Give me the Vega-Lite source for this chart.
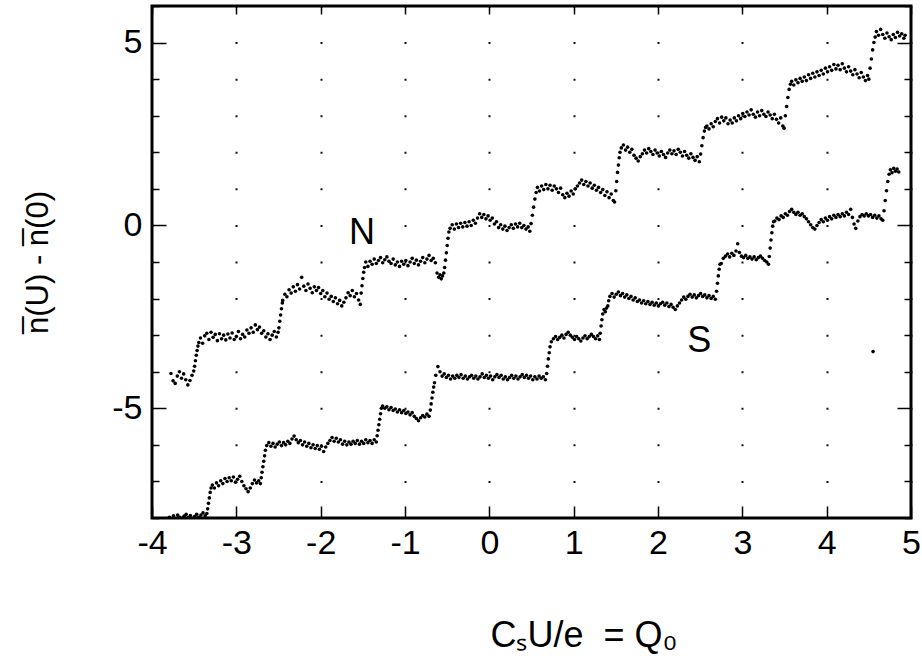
{
"$schema": "https://vega.github.io/schema/vega-lite/v6.json",
"width": 759,
"height": 512,
"autosize": {"type": "none"},
"padding": {"left": 152, "top": 6, "right": 11, "bottom": 144},
"background": "white",
"config": {"view": {"stroke": "black", "strokeWidth": 3}, "font": "Liberation Sans"},
"datasets": {
"N": [
{"x":-3.775,"y":-4.05},{"x":-3.75,"y":-4.25},{"x":-3.725,"y":-4.32},{"x":-3.7,"y":-4.12},{"x":-3.675,"y":-4.0},{"x":-3.65,"y":-4.18},{"x":-3.625,"y":-4.06},{"x":-3.6,"y":-4.22},{"x":-3.575,"y":-4.36},{"x":-3.55,"y":-4.24},{"x":-3.525,"y":-4.1},{"x":-3.505,"y":-3.98},
{"x":-3.495,"y":-3.85},{"x":-3.485,"y":-3.7},{"x":-3.475,"y":-3.55},{"x":-3.465,"y":-3.42},{"x":-3.455,"y":-3.3},{"x":-3.445,"y":-3.2},
{"x":-3.425,"y":-3.08},{"x":-3.4,"y":-3.22},{"x":-3.375,"y":-3.02},{"x":-3.35,"y":-2.95},{"x":-3.325,"y":-3.12},{"x":-3.3,"y":-2.92},{"x":-3.275,"y":-3.06},{"x":-3.25,"y":-2.98},{"x":-3.225,"y":-3.15},{"x":-3.2,"y":-2.96},{"x":-3.175,"y":-3.1},{"x":-3.15,"y":-3.0},{"x":-3.125,"y":-3.13},{"x":-3.1,"y":-2.97},{"x":-3.075,"y":-3.08},{"x":-3.05,"y":-2.94},{"x":-3.025,"y":-3.12},{"x":-3.0,"y":-3.04},{"x":-2.975,"y":-2.9},{"x":-2.95,"y":-3.1},{"x":-2.925,"y":-2.98},{"x":-2.9,"y":-3.05},{"x":-2.875,"y":-2.86},{"x":-2.85,"y":-2.95},{"x":-2.825,"y":-2.8},{"x":-2.8,"y":-2.92},{"x":-2.775,"y":-2.72},{"x":-2.75,"y":-2.85},{"x":-2.725,"y":-2.78},{"x":-2.7,"y":-2.95},{"x":-2.675,"y":-2.88},{"x":-2.65,"y":-3.05},{"x":-2.625,"y":-2.96},{"x":-2.6,"y":-3.12},{"x":-2.575,"y":-3.0},{"x":-2.55,"y":-2.9},{"x":-2.525,"y":-3.05},{"x":-2.505,"y":-2.92},
{"x":-2.495,"y":-2.8},{"x":-2.485,"y":-2.62},{"x":-2.475,"y":-2.45},{"x":-2.465,"y":-2.28},{"x":-2.455,"y":-2.12},
{"x":-2.45,"y":-2.05},{"x":-2.425,"y":-1.88},{"x":-2.4,"y":-1.95},{"x":-2.375,"y":-1.76},{"x":-2.35,"y":-1.85},{"x":-2.325,"y":-1.68},{"x":-2.3,"y":-1.8},{"x":-2.275,"y":-1.62},{"x":-2.25,"y":-1.74},{"x":-2.225,"y":-1.42},{"x":-2.2,"y":-1.66},{"x":-2.175,"y":-1.78},{"x":-2.15,"y":-1.6},{"x":-2.125,"y":-1.72},{"x":-2.1,"y":-1.84},{"x":-2.075,"y":-1.68},{"x":-2.05,"y":-1.78},{"x":-2.025,"y":-1.7},{"x":-2.0,"y":-1.86},{"x":-1.975,"y":-1.78},{"x":-1.95,"y":-1.95},{"x":-1.925,"y":-1.85},{"x":-1.9,"y":-2.02},{"x":-1.875,"y":-1.94},{"x":-1.85,"y":-2.08},{"x":-1.825,"y":-1.98},{"x":-1.8,"y":-2.14},{"x":-1.775,"y":-2.05},{"x":-1.75,"y":-2.2},{"x":-1.725,"y":-2.1},{"x":-1.7,"y":-1.98},{"x":-1.675,"y":-1.84},{"x":-1.65,"y":-1.92},{"x":-1.625,"y":-1.78},{"x":-1.6,"y":-1.95},{"x":-1.575,"y":-1.86},{"x":-1.55,"y":-2.04},{"x":-1.53,"y":-2.16},
{"x":-1.52,"y":-1.85},{"x":-1.51,"y":-1.65},{"x":-1.5,"y":-1.45},{"x":-1.49,"y":-1.28},{"x":-1.48,"y":-1.15},
{"x":-1.465,"y":-1.0},{"x":-1.44,"y":-1.12},{"x":-1.415,"y":-0.98},{"x":-1.39,"y":-1.06},{"x":-1.365,"y":-0.92},{"x":-1.34,"y":-1.04},{"x":-1.315,"y":-0.96},{"x":-1.29,"y":-0.88},{"x":-1.265,"y":-1.02},{"x":-1.24,"y":-0.94},{"x":-1.215,"y":-0.86},{"x":-1.19,"y":-0.98},{"x":-1.165,"y":-1.04},{"x":-1.14,"y":-0.92},{"x":-1.115,"y":-1.08},{"x":-1.09,"y":-1.0},{"x":-1.065,"y":-1.12},{"x":-1.04,"y":-0.98},{"x":-1.015,"y":-1.06},{"x":-0.99,"y":-0.96},{"x":-0.965,"y":-1.1},{"x":-0.94,"y":-1.0},{"x":-0.915,"y":-0.9},{"x":-0.89,"y":-1.04},{"x":-0.865,"y":-0.95},{"x":-0.84,"y":-1.08},{"x":-0.815,"y":-0.98},{"x":-0.79,"y":-0.88},{"x":-0.765,"y":-1.02},{"x":-0.74,"y":-0.92},{"x":-0.715,"y":-0.82},{"x":-0.69,"y":-0.96},{"x":-0.665,"y":-0.9},{"x":-0.64,"y":-1.02},
{"x":-0.62,"y":-1.3},{"x":-0.6,"y":-1.42},{"x":-0.585,"y":-1.35},{"x":-0.57,"y":-1.46},{"x":-0.555,"y":-1.38},{"x":-0.54,"y":-1.3},
{"x":-0.53,"y":-1.15},{"x":-0.52,"y":-0.95},{"x":-0.51,"y":-0.75},{"x":-0.5,"y":-0.55},{"x":-0.49,"y":-0.35},{"x":-0.48,"y":-0.18},
{"x":-0.465,"y":-0.08},{"x":-0.44,"y":0.02},{"x":-0.415,"y":-0.1},{"x":-0.39,"y":0.04},{"x":-0.365,"y":-0.06},{"x":-0.34,"y":0.06},{"x":-0.315,"y":-0.04},{"x":-0.29,"y":0.08},{"x":-0.265,"y":-0.02},{"x":-0.24,"y":0.1},{"x":-0.215,"y":0.0},{"x":-0.19,"y":0.14},{"x":-0.165,"y":0.06},{"x":-0.14,"y":0.2},{"x":-0.115,"y":0.32},{"x":-0.09,"y":0.22},{"x":-0.065,"y":0.3},{"x":-0.04,"y":0.18},{"x":-0.015,"y":0.26},{"x":0.01,"y":0.14},{"x":0.035,"y":0.2},{"x":0.06,"y":0.04},{"x":0.085,"y":0.1},{"x":0.11,"y":-0.06},{"x":0.135,"y":0.02},{"x":0.16,"y":-0.1},{"x":0.185,"y":-0.02},{"x":0.21,"y":-0.14},{"x":0.235,"y":-0.06},{"x":0.26,"y":0.02},{"x":0.285,"y":-0.08},{"x":0.31,"y":0.04},{"x":0.335,"y":-0.04},{"x":0.36,"y":0.06},{"x":0.385,"y":-0.06},{"x":0.41,"y":0.0},{"x":0.435,"y":-0.1},{"x":0.46,"y":-0.04},{"x":0.48,"y":-0.16},
{"x":0.495,"y":0.05},{"x":0.51,"y":0.28},{"x":0.525,"y":0.5},{"x":0.54,"y":0.72},{"x":0.555,"y":0.9},
{"x":0.57,"y":1.04},{"x":0.595,"y":0.94},{"x":0.62,"y":1.08},{"x":0.645,"y":0.98},{"x":0.67,"y":1.12},{"x":0.695,"y":1.0},{"x":0.72,"y":1.1},{"x":0.745,"y":0.96},{"x":0.77,"y":1.08},{"x":0.795,"y":1.0},{"x":0.82,"y":0.9},{"x":0.845,"y":1.02},{"x":0.87,"y":0.84},{"x":0.895,"y":0.76},{"x":0.92,"y":0.88},{"x":0.945,"y":0.8},{"x":0.97,"y":0.94},{"x":0.995,"y":0.86},{"x":1.02,"y":1.0},{"x":1.045,"y":1.08},{"x":1.07,"y":1.16},{"x":1.095,"y":1.24},{"x":1.12,"y":1.12},{"x":1.145,"y":1.2},{"x":1.17,"y":1.08},{"x":1.195,"y":1.16},{"x":1.22,"y":1.02},{"x":1.245,"y":1.1},{"x":1.27,"y":0.96},{"x":1.295,"y":1.04},{"x":1.32,"y":0.9},{"x":1.345,"y":0.98},{"x":1.37,"y":0.82},{"x":1.395,"y":0.92},{"x":1.42,"y":0.76},{"x":1.445,"y":0.86},{"x":1.47,"y":0.68},{"x":1.485,"y":0.64},
{"x":1.5,"y":0.95},{"x":1.51,"y":1.2},{"x":1.52,"y":1.45},{"x":1.53,"y":1.65},{"x":1.54,"y":1.85},{"x":1.55,"y":2.0},
{"x":1.565,"y":2.12},{"x":1.59,"y":2.2},{"x":1.615,"y":2.06},{"x":1.64,"y":2.14},{"x":1.665,"y":2.0},{"x":1.69,"y":2.08},{"x":1.715,"y":1.92},{"x":1.74,"y":1.84},{"x":1.765,"y":1.76},{"x":1.79,"y":1.88},{"x":1.815,"y":1.96},{"x":1.84,"y":2.06},{"x":1.865,"y":1.98},{"x":1.89,"y":2.1},{"x":1.915,"y":2.02},{"x":1.94,"y":1.94},{"x":1.965,"y":2.06},{"x":1.99,"y":1.98},{"x":2.015,"y":1.9},{"x":2.04,"y":2.02},{"x":2.065,"y":1.94},{"x":2.09,"y":1.86},{"x":2.115,"y":1.98},{"x":2.14,"y":2.06},{"x":2.165,"y":1.96},{"x":2.19,"y":2.04},{"x":2.215,"y":1.94},{"x":2.24,"y":2.08},{"x":2.265,"y":2.0},{"x":2.29,"y":1.9},{"x":2.315,"y":2.02},{"x":2.34,"y":1.92},{"x":2.365,"y":1.84},{"x":2.39,"y":1.96},{"x":2.415,"y":1.86},{"x":2.44,"y":1.78},{"x":2.465,"y":1.88},{"x":2.49,"y":1.74},
{"x":2.505,"y":1.95},{"x":2.52,"y":2.18},{"x":2.535,"y":2.4},{"x":2.55,"y":2.58},{"x":2.565,"y":2.68},
{"x":2.58,"y":2.72},{"x":2.605,"y":2.64},{"x":2.63,"y":2.78},{"x":2.655,"y":2.7},{"x":2.68,"y":2.84},{"x":2.705,"y":2.92},{"x":2.73,"y":2.8},{"x":2.755,"y":2.96},{"x":2.78,"y":2.86},{"x":2.805,"y":2.94},{"x":2.83,"y":2.78},{"x":2.855,"y":2.88},{"x":2.88,"y":2.8},{"x":2.905,"y":2.94},{"x":2.93,"y":2.86},{"x":2.955,"y":3.0},{"x":2.98,"y":2.92},{"x":3.005,"y":3.06},{"x":3.03,"y":2.98},{"x":3.055,"y":3.1},{"x":3.08,"y":3.02},{"x":3.105,"y":3.16},{"x":3.13,"y":3.04},{"x":3.155,"y":2.96},{"x":3.18,"y":3.1},{"x":3.205,"y":3.0},{"x":3.23,"y":3.14},{"x":3.255,"y":3.04},{"x":3.28,"y":2.98},{"x":3.305,"y":3.1},{"x":3.33,"y":3.02},{"x":3.355,"y":2.92},{"x":3.38,"y":3.04},{"x":3.405,"y":2.9},{"x":3.43,"y":2.8},{"x":3.455,"y":2.94},{"x":3.48,"y":2.72},{"x":3.495,"y":2.66},
{"x":3.51,"y":3.0},{"x":3.525,"y":3.25},{"x":3.54,"y":3.5},{"x":3.555,"y":3.72},{"x":3.57,"y":3.86},
{"x":3.585,"y":3.94},{"x":3.61,"y":3.84},{"x":3.635,"y":3.98},{"x":3.66,"y":3.9},{"x":3.685,"y":4.02},{"x":3.71,"y":3.94},{"x":3.735,"y":4.06},{"x":3.76,"y":3.96},{"x":3.785,"y":4.12},{"x":3.81,"y":4.02},{"x":3.835,"y":4.16},{"x":3.86,"y":4.06},{"x":3.885,"y":4.2},{"x":3.91,"y":4.1},{"x":3.935,"y":4.24},{"x":3.96,"y":4.14},{"x":3.985,"y":4.3},{"x":4.01,"y":4.2},{"x":4.035,"y":4.34},{"x":4.06,"y":4.24},{"x":4.085,"y":4.4},{"x":4.11,"y":4.28},{"x":4.135,"y":4.38},{"x":4.16,"y":4.26},{"x":4.185,"y":4.42},{"x":4.21,"y":4.3},{"x":4.235,"y":4.2},{"x":4.26,"y":4.34},{"x":4.285,"y":4.22},{"x":4.31,"y":4.12},{"x":4.335,"y":4.26},{"x":4.36,"y":4.14},{"x":4.385,"y":4.04},{"x":4.41,"y":4.18},{"x":4.435,"y":4.06},{"x":4.46,"y":3.96},{"x":4.485,"y":4.1},{"x":4.5,"y":4.0},
{"x":4.515,"y":4.3},{"x":4.53,"y":4.55},{"x":4.545,"y":4.8},{"x":4.56,"y":5.0},{"x":4.575,"y":5.15},
{"x":4.59,"y":5.3},{"x":4.615,"y":5.2},{"x":4.64,"y":5.36},{"x":4.665,"y":5.22},{"x":4.69,"y":5.12},{"x":4.715,"y":5.26},{"x":4.74,"y":5.16},{"x":4.765,"y":5.08},{"x":4.79,"y":5.22},{"x":4.815,"y":5.14},{"x":4.84,"y":5.28},{"x":4.865,"y":5.18},{"x":4.89,"y":5.24},{"x":4.915,"y":5.12},{"x":4.93,"y":5.2}
],
"S": [
{"x":-3.795,"y":-7.98},{"x":-3.77,"y":-8.05},{"x":-3.745,"y":-7.94},{"x":-3.72,"y":-8.02},{"x":-3.695,"y":-7.92},{"x":-3.67,"y":-7.98},{"x":-3.645,"y":-8.04},{"x":-3.62,"y":-7.95},{"x":-3.595,"y":-7.9},{"x":-3.57,"y":-7.99},{"x":-3.545,"y":-7.93},{"x":-3.52,"y":-8.03},{"x":-3.495,"y":-7.96},{"x":-3.47,"y":-7.9},{"x":-3.445,"y":-7.98},{"x":-3.42,"y":-7.92},{"x":-3.395,"y":-7.86},{"x":-3.37,"y":-7.94},{"x":-3.35,"y":-7.88},
{"x":-3.34,"y":-7.75},{"x":-3.33,"y":-7.6},{"x":-3.32,"y":-7.45},{"x":-3.31,"y":-7.3},{"x":-3.3,"y":-7.18},
{"x":-3.285,"y":-7.1},{"x":-3.26,"y":-7.18},{"x":-3.235,"y":-7.04},{"x":-3.21,"y":-7.12},{"x":-3.185,"y":-6.98},{"x":-3.16,"y":-7.06},{"x":-3.135,"y":-6.92},{"x":-3.11,"y":-7.0},{"x":-3.085,"y":-6.9},{"x":-3.06,"y":-6.98},{"x":-3.035,"y":-6.88},{"x":-3.01,"y":-7.02},{"x":-2.985,"y":-6.94},{"x":-2.96,"y":-6.86},{"x":-2.935,"y":-7.0},{"x":-2.91,"y":-7.12},{"x":-2.885,"y":-7.2},{"x":-2.86,"y":-7.28},{"x":-2.835,"y":-7.18},{"x":-2.81,"y":-7.06},{"x":-2.785,"y":-6.96},{"x":-2.76,"y":-7.04},{"x":-2.735,"y":-6.98},{"x":-2.715,"y":-7.06},
{"x":-2.705,"y":-6.9},{"x":-2.695,"y":-6.75},{"x":-2.685,"y":-6.6},{"x":-2.675,"y":-6.45},{"x":-2.665,"y":-6.3},{"x":-2.655,"y":-6.15},
{"x":-2.64,"y":-6.02},{"x":-2.615,"y":-5.94},{"x":-2.59,"y":-6.04},{"x":-2.565,"y":-5.96},{"x":-2.54,"y":-6.06},{"x":-2.515,"y":-5.98},{"x":-2.49,"y":-5.92},{"x":-2.465,"y":-6.02},{"x":-2.44,"y":-5.94},{"x":-2.415,"y":-6.0},{"x":-2.39,"y":-5.9},{"x":-2.365,"y":-5.96},{"x":-2.34,"y":-5.84},{"x":-2.315,"y":-5.76},{"x":-2.29,"y":-5.86},{"x":-2.265,"y":-5.94},{"x":-2.24,"y":-5.88},{"x":-2.215,"y":-6.0},{"x":-2.19,"y":-5.92},{"x":-2.165,"y":-6.04},{"x":-2.14,"y":-5.96},{"x":-2.115,"y":-6.08},{"x":-2.09,"y":-6.0},{"x":-2.065,"y":-6.1},{"x":-2.04,"y":-6.02},{"x":-2.015,"y":-6.12},{"x":-1.99,"y":-6.04},{"x":-1.965,"y":-6.18},{"x":-1.94,"y":-6.06},{"x":-1.915,"y":-5.96},{"x":-1.89,"y":-5.88},{"x":-1.865,"y":-5.8},{"x":-1.84,"y":-5.9},{"x":-1.815,"y":-5.82},{"x":-1.79,"y":-5.92},{"x":-1.765,"y":-5.86},{"x":-1.74,"y":-5.98},{"x":-1.715,"y":-5.9},{"x":-1.69,"y":-6.0},{"x":-1.665,"y":-5.92},{"x":-1.64,"y":-5.98},{"x":-1.615,"y":-5.9},{"x":-1.59,"y":-5.96},{"x":-1.565,"y":-5.88},{"x":-1.54,"y":-5.98},{"x":-1.515,"y":-5.9},{"x":-1.49,"y":-5.96},{"x":-1.465,"y":-5.86},{"x":-1.44,"y":-5.94},{"x":-1.415,"y":-5.88},{"x":-1.39,"y":-5.96},{"x":-1.365,"y":-5.86},{"x":-1.34,"y":-5.92},
{"x":-1.33,"y":-5.75},{"x":-1.32,"y":-5.6},{"x":-1.31,"y":-5.45},{"x":-1.3,"y":-5.3},{"x":-1.29,"y":-5.15},{"x":-1.28,"y":-5.0},
{"x":-1.265,"y":-4.94},{"x":-1.24,"y":-5.0},{"x":-1.215,"y":-4.96},{"x":-1.19,"y":-5.04},{"x":-1.165,"y":-4.98},{"x":-1.14,"y":-5.06},{"x":-1.115,"y":-5.02},{"x":-1.09,"y":-5.1},{"x":-1.065,"y":-5.04},{"x":-1.04,"y":-5.12},{"x":-1.015,"y":-5.06},{"x":-0.99,"y":-5.14},{"x":-0.965,"y":-5.1},{"x":-0.94,"y":-5.18},{"x":-0.915,"y":-5.12},{"x":-0.89,"y":-5.22},{"x":-0.865,"y":-5.28},{"x":-0.84,"y":-5.34},{"x":-0.815,"y":-5.26},{"x":-0.79,"y":-5.2},{"x":-0.765,"y":-5.24},{"x":-0.74,"y":-5.16},{"x":-0.715,"y":-5.22},
{"x":-0.7,"y":-5.05},{"x":-0.69,"y":-4.88},{"x":-0.68,"y":-4.72},{"x":-0.67,"y":-4.56},{"x":-0.66,"y":-4.42},{"x":-0.65,"y":-4.3},
{"x":-0.635,"y":-4.1},{"x":-0.61,"y":-3.86},{"x":-0.585,"y":-4.0},{"x":-0.56,"y":-4.12},{"x":-0.535,"y":-4.06},{"x":-0.51,"y":-4.16},{"x":-0.485,"y":-4.1},{"x":-0.46,"y":-4.2},{"x":-0.435,"y":-4.12},{"x":-0.41,"y":-4.18},{"x":-0.385,"y":-4.1},{"x":-0.36,"y":-4.16},{"x":-0.335,"y":-4.08},{"x":-0.31,"y":-4.18},{"x":-0.285,"y":-4.12},{"x":-0.26,"y":-4.2},{"x":-0.235,"y":-4.14},{"x":-0.21,"y":-4.1},{"x":-0.185,"y":-4.18},{"x":-0.16,"y":-4.12},{"x":-0.135,"y":-4.2},{"x":-0.11,"y":-4.14},{"x":-0.085,"y":-4.06},{"x":-0.06,"y":-4.16},{"x":-0.035,"y":-4.1},{"x":-0.01,"y":-4.18},{"x":0.015,"y":-4.12},{"x":0.04,"y":-4.22},{"x":0.065,"y":-4.14},{"x":0.09,"y":-4.08},{"x":0.115,"y":-4.16},{"x":0.14,"y":-4.1},{"x":0.165,"y":-4.2},{"x":0.19,"y":-4.14},{"x":0.215,"y":-4.22},{"x":0.24,"y":-4.16},{"x":0.265,"y":-4.1},{"x":0.29,"y":-4.18},{"x":0.315,"y":-4.12},{"x":0.34,"y":-4.2},{"x":0.365,"y":-4.14},{"x":0.39,"y":-4.08},{"x":0.415,"y":-4.16},{"x":0.44,"y":-4.1},{"x":0.465,"y":-4.18},{"x":0.49,"y":-4.12},{"x":0.515,"y":-4.22},{"x":0.54,"y":-4.14},{"x":0.565,"y":-4.2},{"x":0.59,"y":-4.12},{"x":0.615,"y":-4.18},{"x":0.64,"y":-4.14},{"x":0.665,"y":-4.22},
{"x":0.68,"y":-4.05},{"x":0.69,"y":-3.85},{"x":0.7,"y":-3.65},{"x":0.71,"y":-3.48},{"x":0.72,"y":-3.32},
{"x":0.735,"y":-3.18},{"x":0.76,"y":-3.1},{"x":0.785,"y":-3.04},{"x":0.81,"y":-3.12},{"x":0.835,"y":-3.06},{"x":0.86,"y":-3.0},{"x":0.885,"y":-3.08},{"x":0.91,"y":-2.98},{"x":0.935,"y":-2.92},{"x":0.96,"y":-3.0},{"x":0.985,"y":-3.06},{"x":1.01,"y":-3.12},{"x":1.035,"y":-3.04},{"x":1.06,"y":-3.1},{"x":1.085,"y":-3.16},{"x":1.11,"y":-3.08},{"x":1.135,"y":-3.02},{"x":1.16,"y":-3.1},{"x":1.185,"y":-3.04},{"x":1.21,"y":-2.98},{"x":1.235,"y":-3.04},{"x":1.26,"y":-3.1},{"x":1.285,"y":-3.02},{"x":1.305,"y":-3.12},
{"x":1.315,"y":-2.95},{"x":1.325,"y":-2.75},{"x":1.335,"y":-2.58},{"x":1.345,"y":-2.42},{"x":1.36,"y":-2.3},{"x":1.375,"y":-2.36},{"x":1.39,"y":-2.26},{"x":1.405,"y":-2.2},{"x":1.415,"y":-2.06},
{"x":1.43,"y":-1.94},{"x":1.455,"y":-1.86},{"x":1.48,"y":-1.96},{"x":1.505,"y":-1.88},{"x":1.53,"y":-1.82},{"x":1.555,"y":-1.92},{"x":1.58,"y":-1.86},{"x":1.605,"y":-1.96},{"x":1.63,"y":-1.9},{"x":1.655,"y":-2.0},{"x":1.68,"y":-1.94},{"x":1.705,"y":-2.04},{"x":1.73,"y":-1.98},{"x":1.755,"y":-2.08},{"x":1.78,"y":-2.04},{"x":1.805,"y":-2.12},{"x":1.83,"y":-2.06},{"x":1.855,"y":-2.14},{"x":1.88,"y":-2.08},{"x":1.905,"y":-2.16},{"x":1.93,"y":-2.1},{"x":1.955,"y":-2.18},{"x":1.98,"y":-2.12},{"x":2.005,"y":-2.2},{"x":2.03,"y":-2.14},{"x":2.055,"y":-2.1},{"x":2.08,"y":-2.18},{"x":2.105,"y":-2.12},{"x":2.13,"y":-2.22},{"x":2.155,"y":-2.16},{"x":2.18,"y":-2.24},{"x":2.205,"y":-2.3},{"x":2.23,"y":-2.2},{"x":2.255,"y":-2.12},{"x":2.28,"y":-2.04},{"x":2.305,"y":-1.96},{"x":2.33,"y":-2.02},{"x":2.355,"y":-1.94},{"x":2.38,"y":-1.88},{"x":2.405,"y":-1.96},{"x":2.43,"y":-1.9},{"x":2.455,"y":-1.98},{"x":2.48,"y":-1.92},{"x":2.505,"y":-1.86},{"x":2.53,"y":-1.94},{"x":2.555,"y":-1.9},{"x":2.58,"y":-1.98},{"x":2.605,"y":-1.92},{"x":2.63,"y":-2.0},{"x":2.655,"y":-1.94},{"x":2.68,"y":-2.02},
{"x":2.695,"y":-1.8},{"x":2.705,"y":-1.58},{"x":2.715,"y":-1.38},{"x":2.725,"y":-1.2},{"x":2.735,"y":-1.06},
{"x":2.75,"y":-1.04},{"x":2.775,"y":-0.9},{"x":2.8,"y":-0.84},{"x":2.825,"y":-0.78},{"x":2.85,"y":-0.86},{"x":2.875,"y":-0.76},{"x":2.9,"y":-0.82},{"x":2.925,"y":-0.7},{"x":2.945,"y":-0.5},{"x":2.965,"y":-0.74},{"x":2.99,"y":-0.84},{"x":3.015,"y":-0.88},{"x":3.04,"y":-0.82},{"x":3.065,"y":-0.9},{"x":3.09,"y":-0.86},{"x":3.115,"y":-0.92},{"x":3.14,"y":-0.86},{"x":3.165,"y":-0.94},{"x":3.19,"y":-0.88},{"x":3.215,"y":-0.84},{"x":3.24,"y":-0.9},{"x":3.265,"y":-0.96},{"x":3.29,"y":-1.0},{"x":3.31,"y":-1.06},
{"x":3.32,"y":-0.85},{"x":3.33,"y":-0.62},{"x":3.34,"y":-0.4},{"x":3.35,"y":-0.2},{"x":3.36,"y":-0.02},{"x":3.37,"y":0.1},
{"x":3.385,"y":0.12},{"x":3.41,"y":0.2},{"x":3.435,"y":0.16},{"x":3.46,"y":0.26},{"x":3.485,"y":0.22},{"x":3.51,"y":0.32},{"x":3.535,"y":0.28},{"x":3.56,"y":0.38},{"x":3.585,"y":0.44},{"x":3.61,"y":0.36},{"x":3.635,"y":0.3},{"x":3.66,"y":0.36},{"x":3.685,"y":0.28},{"x":3.71,"y":0.32},{"x":3.735,"y":0.24},{"x":3.76,"y":0.18},{"x":3.785,"y":0.1},{"x":3.81,"y":0.02},{"x":3.835,"y":-0.06},{"x":3.86,"y":-0.1},{"x":3.885,"y":0.0},{"x":3.91,"y":0.08},{"x":3.935,"y":0.16},{"x":3.96,"y":0.1},{"x":3.985,"y":0.2},{"x":4.01,"y":0.14},{"x":4.035,"y":0.24},{"x":4.06,"y":0.18},{"x":4.085,"y":0.28},{"x":4.11,"y":0.22},{"x":4.135,"y":0.3},{"x":4.16,"y":0.24},{"x":4.185,"y":0.32},{"x":4.21,"y":0.26},{"x":4.235,"y":0.36},{"x":4.26,"y":0.3},{"x":4.285,"y":0.44},{"x":4.305,"y":0.22},{"x":4.325,"y":0.04},{"x":4.345,"y":-0.08},{"x":4.37,"y":0.12},{"x":4.395,"y":0.24},{"x":4.42,"y":0.3},{"x":4.445,"y":0.26},{"x":4.47,"y":0.32},{"x":4.495,"y":0.26},{"x":4.52,"y":0.3},{"x":4.545,"y":0.22},{"x":4.57,"y":0.28},{"x":4.595,"y":0.2},{"x":4.62,"y":0.26},{"x":4.645,"y":0.18},{"x":4.665,"y":0.14},
{"x":4.68,"y":0.4},{"x":4.695,"y":0.68},{"x":4.71,"y":0.95},{"x":4.725,"y":1.2},{"x":4.74,"y":1.4},
{"x":4.755,"y":1.52},{"x":4.775,"y":1.44},{"x":4.795,"y":1.56},{"x":4.815,"y":1.48},{"x":4.835,"y":1.54},{"x":4.855,"y":1.46},
{"x":4.55,"y":-3.45}
],
"labels": [
{"x":-1.51,"y":-0.21,"t":"N"},
{"x":2.49,"y":-3.16,"t":"S"}
]
},
"layer": [
{
"data": {"name": "N"},
"mark": {"type": "circle", "size": 13, "color": "black", "opacity": 1, "clip": true},
"encoding": {
"x": {"field": "x", "type": "quantitative", "scale": {"domain": [-4, 5], "nice": false, "zero": false},
"axis": {"orient": "bottom", "values": [-4,-3,-2,-1,0,1,2,3,4,5], "domain": false, "tickSize": -12, "tickWidth": 1.5, "tickColor": "black",
"labelFontSize": 34, "labelColor": "black", "labelFont": "Liberation Sans", "labelPadding": 20, "labelExpr": "'' + datum.value", "labelFlush": false, "labelOverlap": false,
"grid": true, "gridColor": "#111", "gridWidth": 2, "gridDash": [2, 34.571], "gridDashOffset": 1,
"title": "CₛU/e\u00a0\u00a0= Q₀", "titleFontSize": 36, "titleFontWeight": "normal", "titleFont": "Liberation Sans", "titleColor": "black",
"titleX": 338, "titleY": 128, "titleAlign": "left", "titleBaseline": "alphabetic"}},
"y": {"field": "y", "type": "quantitative", "scale": {"domain": [-8, 6], "nice": false, "zero": false},
"axis": {"orient": "left", "values": [-8,-7,-6,-5,-4,-3,-2,-1,0,1,2,3,4,5,6], "domain": false,
"tickSize": {"condition": {"test": "datum.value % 5 === 0", "value": -14}, "value": -7}, "tickWidth": 1.5, "tickColor": "black",
"labelFontSize": 34, "labelColor": "black", "labelFont": "Liberation Sans", "labelPadding": 24, "labelExpr": "datum.value % 5 === 0 ? '' + datum.value : ''", "labelOverlap": false,
"grid": false,
"title": "n̅(U) - n̅(0)", "titleFontSize": 31, "titleFontWeight": "normal", "titleFont": "Liberation Sans", "titleColor": "black",
"titleX": -105, "titleY": 256, "titleAngle": 270, "titleAlign": "center", "titleBaseline": "alphabetic"}}
}
},
{
"data": {"name": "S"},
"mark": {"type": "circle", "size": 13, "color": "black", "opacity": 1, "clip": true},
"encoding": {
"x": {"field": "x", "type": "quantitative", "scale": {"domain": [-4, 5], "nice": false, "zero": false},
"axis": {"orient": "top", "values": [-4,-3,-2,-1,0,1,2,3,4,5], "domain": false, "labels": false, "grid": false, "tickSize": -8, "tickWidth": 1.5, "tickColor": "black", "title": null}},
"y": {"field": "y", "type": "quantitative", "scale": {"domain": [-8, 6], "nice": false, "zero": false},
"axis": {"orient": "right", "values": [-8,-7,-6,-5,-4,-3,-2,-1,0,1,2,3,4,5,6], "domain": false, "labels": false, "grid": false,
"tickSize": {"condition": {"test": "datum.value % 5 === 0", "value": -14}, "value": -7}, "tickWidth": 1.5, "tickColor": "black", "title": null}}
}
},
{
"data": {"name": "labels"},
"mark": {"type": "text", "fontSize": 36, "font": "Liberation Sans", "color": "black", "align": "center", "baseline": "middle"},
"encoding": {
"x": {"field": "x", "type": "quantitative", "scale": {"domain": [-4, 5], "nice": false, "zero": false}, "axis": null},
"y": {"field": "y", "type": "quantitative", "scale": {"domain": [-8, 6], "nice": false, "zero": false}, "axis": null},
"text": {"field": "t", "type": "nominal"}
}
}
],
"resolve": {"axis": {"x": "independent", "y": "independent"}}
}
